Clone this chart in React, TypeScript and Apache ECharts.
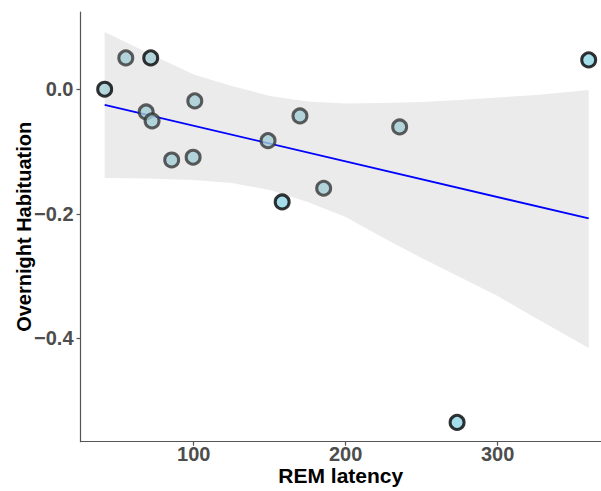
import { useEffect, useRef } from "react";
import * as echarts from "echarts";

// REM latency (x) and overnight habituation (y) for each participant
const remLatency = [41.4, 55.3, 71.7, 68.7, 72.6, 100.7, 85.5, 99.6, 148.9, 158.2, 169.9, 185.5, 235.5, 359.9, 273.3];
const habituation = [0.0, 0.0503, 0.0503, -0.0365, -0.0509, -0.0188, -0.1136, -0.1092, -0.0826, -0.181, -0.0429, -0.159, -0.0606, 0.0471, -0.535];
// point group: "inside" = ordinary point, "overlap" = stacked points, "outside" = outside the band
const pointGroup = ["overlap", "inside", "overlap", "inside", "inside", "inside", "inside", "inside", "inside", "outside", "inside", "inside", "inside", "outside", "outside"];

// confidence band of the linear fit
const bandX = [41.4, 70, 100, 125, 150, 175, 200, 225, 250, 275, 300, 325, 359.9];
const bandUpper = [0.092, 0.0583, 0.0235, 0.0053, -0.0108, -0.0196, -0.0228, -0.022, -0.0204, -0.0172, -0.0132, -0.0092, -0.0011];
const bandLower = [-0.1425, -0.1433, -0.1457, -0.1505, -0.1618, -0.181, -0.2051, -0.239, -0.2711, -0.3016, -0.3321, -0.3674, -0.4156];

// fitted regression line end points
const fitX = [41.4, 359.9];
const fitY = [-0.0252, -0.2075];

const xTicks = [100, 200, 300];
const yTicks = [-0.4, -0.2, 0.0];

const FONT = "'Liberation Sans', Arial, Helvetica, sans-serif";

export default function App() {
  const ref = useRef<HTMLDivElement>(null);

  useEffect(() => {
    if (!ref.current) return;
    const chart = echarts.init(ref.current, undefined, { renderer: "svg" });

    const styles: Record<string, { fill: string; border: string }> = {
      inside: { fill: "#a3cdd4", border: "#363636" },
      overlap: { fill: "#a3cdd4", border: "#000000" },
      outside: { fill: "#8ed5e5", border: "#000000" },
    };

    const scatterData = remLatency.map((x, i) => ({
      value: [x, habituation[i]],
      itemStyle: {
        color: styles[pointGroup[i]].fill,
        borderColor: styles[pointGroup[i]].border,
        borderWidth: 3,
      },
    }));

    chart.setOption({
      animation: false,
      backgroundColor: "#ffffff",
      grid: { left: 80.5, right: 0, top: 12, bottom: 49.3, containLabel: false, outerBoundsMode: "none" },
      xAxis: {
        type: "value",
        min: 25.5,
        max: 368,
        name: "REM latency",
        nameLocation: "middle",
        nameGap: 23,
        nameMoveOverlap: false,
        nameTextStyle: { fontFamily: FONT, fontSize: 21, fontWeight: "bold", color: "#000000" },
        axisLine: { show: true, onZero: false, lineStyle: { color: "#555555", width: 1.2 } },
        axisTick: { show: true, length: 4, customValues: xTicks, lineStyle: { color: "#555555", width: 1.2 } },
        axisLabel: {
          customValues: xTicks,
          margin: 2,
          fontFamily: FONT,
          fontSize: 20,
          fontWeight: "bold",
          color: "#4d4d4d",
        },
        splitLine: { show: false },
      },
      yAxis: {
        type: "value",
        min: -0.566,
        max: 0.124,
        name: "Overnight Habituation",
        nameLocation: "middle",
        nameGap: 47,
        nameMoveOverlap: false,
        nameTextStyle: { fontFamily: FONT, fontSize: 20, fontWeight: "bold", color: "#000000" },
        axisLine: { show: true, onZero: false, lineStyle: { color: "#555555", width: 1.2 } },
        axisTick: { show: true, length: 4, customValues: yTicks, lineStyle: { color: "#555555", width: 1.2 } },
        axisLabel: {
          customValues: yTicks,
          margin: 7,
          fontFamily: FONT,
          fontSize: 20,
          fontWeight: "bold",
          color: "#4d4d4d",
          formatter: (v: number) => (v < 0 ? "\u2212" + Math.abs(v).toFixed(1) : v.toFixed(1)),
        },
        splitLine: { show: false },
      },
      series: [
        {
          type: "custom",
          z: 1,
          silent: true,
          data: [[bandX[0], bandUpper[0]]],
          renderItem: (_params: any, api: any) => {
            const pts: number[][] = [];
            for (let i = 0; i < bandX.length; i++) pts.push(api.coord([bandX[i], bandUpper[i]]));
            for (let i = bandX.length - 1; i >= 0; i--) pts.push(api.coord([bandX[i], bandLower[i]]));
            return { type: "polygon", shape: { points: pts }, style: { fill: "#ebebeb" } };
          },
        },
        {
          type: "line",
          z: 2,
          data: fitX.map((x, i) => [x, fitY[i]]),
          symbol: "none",
          lineStyle: { color: "#0000ff", width: 1.8 },
        },
        {
          type: "scatter",
          z: 3,
          symbol: "circle",
          symbolSize: 14,
          data: scatterData,
        },
      ],
    });

    return () => chart.dispose();
  }, []);

  return (
    <div
      ref={ref}
      style={{ position: "absolute", left: 0, top: 0, width: 601, height: 491 }}
    />
  );
}
